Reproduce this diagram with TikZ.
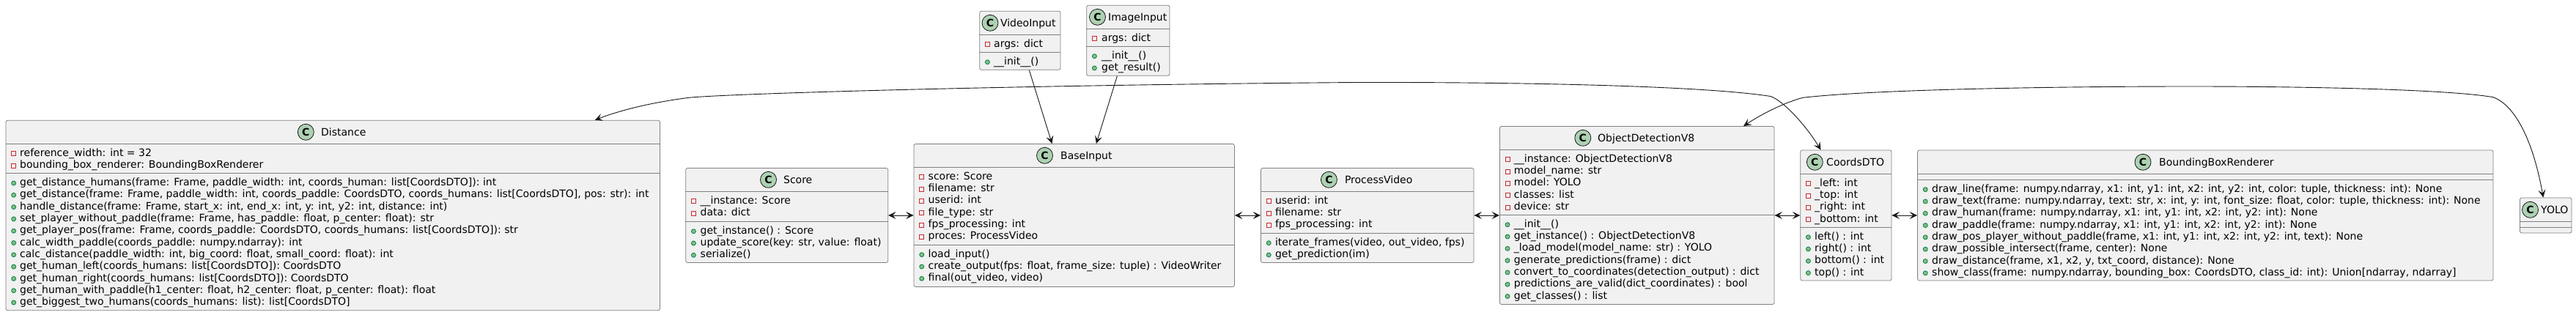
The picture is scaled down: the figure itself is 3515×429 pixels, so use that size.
\documentclass[tikz,border=0pt]{standalone}
\usepackage{fontspec}
\setmainfont{DejaVu Sans}
\usetikzlibrary{arrows.meta}
\definecolor{classfill}{HTML}{F1F1F1}
\definecolor{classline}{HTML}{181818}
\definecolor{boxline}{HTML}{808080}
\definecolor{spotfill}{HTML}{ADD1B2}
\definecolor{privline}{HTML}{C82930}
\definecolor{publine}{HTML}{038048}
\definecolor{pubfill}{HTML}{84BE84}
\tikzset{
  classbox/.style={draw=boxline,fill=classfill,line width=.8pt,rounded corners=2.5pt,inner sep=0pt},
  sepline/.style={draw=boxline,line width=.8pt},
  spot/.style={circle,draw=classline,fill=spotfill,line width=.8pt,minimum size=22pt,inner sep=0pt,font=\fontsize{14}{16}\selectfont\bfseries},
  classname/.style={anchor=base west,inner sep=0pt,font=\fontsize{14}{16}\selectfont},
  member/.style={anchor=base west,inner sep=0pt,font=\fontsize{14}{16}\selectfont},
  privmark/.style={rectangle,draw=privline,fill=classfill,line width=.8pt,minimum size=6pt,inner sep=0pt},
  pubmark/.style={circle,draw=publine,fill=pubfill,line width=.8pt,minimum size=6pt,inner sep=0pt},
  assoc/.style={draw=classline,line width=.9pt,{Stealth[length=10.5pt,width=10pt,inset=4.5pt]}-{Stealth[length=10.5pt,width=10pt,inset=4.5pt]}},
  assocto/.style={draw=classline,line width=.9pt,-{Stealth[length=10.5pt,width=10pt,inset=4.5pt]}},
}
\begin{document}
\begin{tikzpicture}[x=1pt,y=-1pt]
\useasboundingbox (0,0) rectangle (3515,429);

% class boxes:
\path (454.25,294) node[classbox,minimum width=892.5pt,minimum height=259.4pt] (distance) {};
\path (1073.7,294) node[classbox,minimum width=276pt,minimum height=129pt] (score) {};
\path (1465.7,294) node[classbox,minimum width=437.4pt,minimum height=195pt] (baseinput) {};
\path (1865.75,294) node[classbox,minimum width=290.5pt,minimum height=129pt] (processvideo) {};
\path (2233.7,294) node[classbox,minimum width=374.6pt,minimum height=243pt] (objectdetection) {};
\path (2518.85,294) node[classbox,minimum width=124.3pt,minimum height=178pt] (coordsdto) {};
\path (3009.25,294) node[classbox,minimum width=785.5pt,minimum height=178pt] (boundingbox) {};
\path (3473.7,294) node[classbox,minimum width=70.6pt,minimum height=48pt] (yolo) {};
\path (1391.85,55.3) node[classbox,minimum width=110.3pt,minimum height=80pt] (videoinput) {};
\path (1539.35,55.3) node[classbox,minimum width=113.3pt,minimum height=96pt] (imageinput) {};

% section lines:
\draw[sepline] (distance.west |- 0,196.3) -- (distance.east |- 0,196.3);
\draw[sepline] (distance.west |- 0,236.6) -- (distance.east |- 0,236.6);
\draw[sepline] (score.west |- 0,261.3) -- (score.east |- 0,261.3);
\draw[sepline] (score.west |- 0,302.3) -- (score.east |- 0,302.3);
\draw[sepline] (baseinput.west |- 0,228.3) -- (baseinput.east |- 0,228.3);
\draw[sepline] (baseinput.west |- 0,334.3) -- (baseinput.east |- 0,334.3);
\draw[sepline] (processvideo.west |- 0,261.3) -- (processvideo.east |- 0,261.3);
\draw[sepline] (processvideo.west |- 0,318.3) -- (processvideo.east |- 0,318.3);
\draw[sepline] (objectdetection.west |- 0,204.3) -- (objectdetection.east |- 0,204.3);
\draw[sepline] (objectdetection.west |- 0,293.3) -- (objectdetection.east |- 0,293.3);
\draw[sepline] (coordsdto.west |- 0,237.3) -- (coordsdto.east |- 0,237.3);
\draw[sepline] (coordsdto.west |- 0,310.3) -- (coordsdto.east |- 0,310.3);
\draw[sepline] (boundingbox.west |- 0,237.3) -- (boundingbox.east |- 0,237.3);
\draw[sepline] (boundingbox.west |- 0,245.3) -- (boundingbox.east |- 0,245.3);
\draw[sepline] (yolo.west |- 0,302.3) -- (yolo.east |- 0,302.3);
\draw[sepline] (yolo.west |- 0,310.3) -- (yolo.east |- 0,310.3);
\draw[sepline] (videoinput.west |- 0,47.3) -- (videoinput.east |- 0,47.3);
\draw[sepline] (videoinput.west |- 0,71.3) -- (videoinput.east |- 0,71.3);
\draw[sepline] (imageinput.west |- 0,39.3) -- (imageinput.east |- 0,39.3);
\draw[sepline] (imageinput.west |- 0,63.3) -- (imageinput.east |- 0,63.3);

% headers:
\path (417.3,180.3) node[spot] (distancespot) {C} (438,185.3) node[classname] (distancename) {Distance};
\path (1048.5,245.3) node[spot] (scorespot) {C} (1068.9,250.3) node[classname] (scorename) {Score};
\path (1425.5,212.3) node[spot] (baseinputspot) {C} (1447,217.3) node[classname] (baseinputname) {BaseInput};
\path (1813.4,245.3) node[spot] (processvideospot) {C} (1834.8,250.3) node[classname] (processvideoname) {ProcessVideo};
\path (2159.8,188.3) node[spot] (objectdetectionspot) {C} (2180,193.3) node[classname] (objectdetectionname) {ObjectDetectionV8};
\path (2476.3,221.3) node[spot] (coordsdtospot) {C} (2492,226.3) node[classname] (coordsdtoname) {CoordsDTO};
\path (2924,221.3) node[spot] (boundingboxspot) {C} (2946,226.3) node[classname] (boundingboxname) {BoundingBoxRenderer};
\path (3452.5,286.3) node[spot] (yolospot) {C} (3467,291.3) node[classname] (yoloname) {YOLO};
\path (1351,31.3) node[spot] (videoinputspot) {C} (1364.8,36.3) node[classname] (videoinputname) {VideoInput};
\path (1497.5,23.3) node[spot] (imageinputspot) {C} (1512,28.3) node[classname] (imageinputname) {ImageInput};

% Distance members:
\path (18.7,209.7) node[privmark] (distanceattrmarka) {} (27,213.3) node[member] (distanceattra) {reference\_width: int = 32};
\path (18.7,226) node[privmark] (distanceattrmarkb) {} (27,229.6) node[member] (distanceattrb) {bounding\_box\_renderer: BoundingBoxRenderer};
\path (18.7,250) node[pubmark] (distancemarka) {} (27,253.6) node[member] (distancea) {get\_distance\_humans(frame: Frame, paddle\_width: int, coords\_human: list[CoordsDTO]): int};
\path (18.7,266.3) node[pubmark] (distancemarkb) {} (27,269.9) node[member] (distanceb) {get\_distance(frame: Frame, paddle\_width: int, coords\_paddle: CoordsDTO, coords\_humans: list[CoordsDTO], pos: str): int};
\path (18.7,282.6) node[pubmark] (distancemarkc) {} (27,286.2) node[member] (distancec) {handle\_distance(frame: Frame, start\_x: int, end\_x: int, y: int, y2: int, distance: int)};
\path (18.7,298.9) node[pubmark] (distancemarkd) {} (27,302.5) node[member] (distanced) {set\_player\_without\_paddle(frame: Frame, has\_paddle: float, p\_center: float): str};
\path (18.7,315.2) node[pubmark] (distancemarke) {} (27,318.8) node[member] (distancee) {get\_player\_pos(frame: Frame, coords\_paddle: CoordsDTO, coords\_humans: list[CoordsDTO]): str};
\path (18.7,331.5) node[pubmark] (distancemarkf) {} (27,335.1) node[member] (distancef) {calc\_width\_paddle(coords\_paddle: numpy.ndarray): int};
\path (18.7,347.8) node[pubmark] (distancemarkg) {} (27,351.4) node[member] (distanceg) {calc\_distance(paddle\_width: int, big\_coord: float, small\_coord: float): int};
\path (18.7,364.1) node[pubmark] (distancemarkh) {} (27,367.7) node[member] (distanceh) {get\_human\_left(coords\_humans: list[CoordsDTO]): CoordsDTO};
\path (18.7,380.4) node[pubmark] (distancemarki) {} (27,384) node[member] (distancei) {get\_human\_right(coords\_humans: list[CoordsDTO]): CoordsDTO};
\path (18.7,396.7) node[pubmark] (distancemarkj) {} (27,400.3) node[member] (distancej) {get\_human\_with\_paddle(h1\_center: float, h2\_center: float, p\_center: float): float};
\path (18.7,413) node[pubmark] (distancemarkk) {} (27,416.6) node[member] (distancek) {get\_biggest\_two\_humans(coords\_humans: list): list[CoordsDTO]};

% Score members:
\path (946.4,274.7) node[privmark] (scoreattrmarka) {} (955.5,278.3) node[member] (scoreattra) {\_\_instance: Score};
\path (946.4,291) node[privmark] (scoreattrmarkb) {} (955.5,294.6) node[member] (scoreattrb) {data: dict};
\path (946.4,315.7) node[pubmark] (scoremarka) {} (955.5,319.3) node[member] (scorea) {get\_instance() : Score};
\path (946.4,332) node[pubmark] (scoremarkb) {} (955.5,335.6) node[member] (scoreb) {update\_score(key: str, value: float)};
\path (946.4,348.3) node[pubmark] (scoremarkc) {} (955.5,351.9) node[member] (scorec) {serialize()};

% BaseInput members:
\path (1257.7,241.7) node[privmark] (baseinputattrmarka) {} (1266.5,245.3) node[member] (baseinputattra) {score: Score};
\path (1257.7,258) node[privmark] (baseinputattrmarkb) {} (1266.5,261.6) node[member] (baseinputattrb) {filename: str};
\path (1257.7,274.3) node[privmark] (baseinputattrmarkc) {} (1266.5,277.9) node[member] (baseinputattrc) {userid: int};
\path (1257.7,290.6) node[privmark] (baseinputattrmarkd) {} (1266.5,294.2) node[member] (baseinputattrd) {file\_type: str};
\path (1257.7,306.9) node[privmark] (baseinputattrmarke) {} (1266.5,310.5) node[member] (baseinputattre) {fps\_processing: int};
\path (1257.7,323.2) node[privmark] (baseinputattrmarkf) {} (1266.5,326.8) node[member] (baseinputattrf) {proces: ProcessVideo};
\path (1257.7,347.7) node[pubmark] (baseinputmarka) {} (1266.5,351.3) node[member] (baseinputa) {load\_input()};
\path (1257.7,364) node[pubmark] (baseinputmarkb) {} (1266.5,367.6) node[member] (baseinputb) {create\_output(fps: float, frame\_size: tuple) : VideoWriter};
\path (1257.7,380.3) node[pubmark] (baseinputmarkc) {} (1266.5,383.9) node[member] (baseinputc) {final(out\_video, video)};

% ProcessVideo members:
\path (1731.2,274.7) node[privmark] (processvideoattrmarka) {} (1739.8,278.3) node[member] (processvideoattra) {userid: int};
\path (1731.2,291) node[privmark] (processvideoattrmarkb) {} (1739.8,294.6) node[member] (processvideoattrb) {filename: str};
\path (1731.2,307.3) node[privmark] (processvideoattrmarkc) {} (1739.8,310.9) node[member] (processvideoattrc) {fps\_processing: int};
\path (1731.2,331.7) node[pubmark] (processvideomarka) {} (1739.8,335.3) node[member] (processvideoa) {iterate\_frames(video, out\_video, fps)};
\path (1731.2,348) node[pubmark] (processvideomarkb) {} (1739.8,351.6) node[member] (processvideob) {get\_prediction(im)};

% ObjectDetectionV8 members:
\path (2057,217.7) node[privmark] (objectdetectionattrmarka) {} (2065.7,221.3) node[member] (objectdetectionattra) {\_\_instance: ObjectDetectionV8};
\path (2057,234) node[privmark] (objectdetectionattrmarkb) {} (2065.7,237.6) node[member] (objectdetectionattrb) {model\_name: str};
\path (2057,250.3) node[privmark] (objectdetectionattrmarkc) {} (2065.7,253.9) node[member] (objectdetectionattrc) {model: YOLO};
\path (2057,266.6) node[privmark] (objectdetectionattrmarkd) {} (2065.7,270.2) node[member] (objectdetectionattrd) {classes: list};
\path (2057,282.9) node[privmark] (objectdetectionattrmarke) {} (2065.7,286.5) node[member] (objectdetectionattre) {device: str};
\path (2057,306.7) node[pubmark] (objectdetectionmarka) {} (2065.7,310.3) node[member] (objectdetectiona) {\_\_init\_\_()};
\path (2057,323) node[pubmark] (objectdetectionmarkb) {} (2065.7,326.6) node[member] (objectdetectionb) {get\_instance() : ObjectDetectionV8};
\path (2057,339.3) node[pubmark] (objectdetectionmarkc) {} (2065.7,342.9) node[member] (objectdetectionc) {\_load\_model(model\_name: str) : YOLO};
\path (2057,355.6) node[pubmark] (objectdetectionmarkd) {} (2065.7,359.2) node[member] (objectdetectiond) {generate\_predictions(frame) : dict};
\path (2057,371.9) node[pubmark] (objectdetectionmarke) {} (2065.7,375.5) node[member] (objectdetectione) {convert\_to\_coordinates(detection\_output) : dict};
\path (2057,388.2) node[pubmark] (objectdetectionmarkf) {} (2065.7,391.8) node[member] (objectdetectionf) {predictions\_are\_valid(dict\_coordinates) : bool};
\path (2057,404.5) node[pubmark] (objectdetectionmarkg) {} (2065.7,408.1) node[member] (objectdetectiong) {get\_classes() : list};

% CoordsDTO members:
\path (2467.4,250.7) node[privmark] (coordsdtoattrmarka) {} (2476,254.3) node[member] (coordsdtoattra) {\_left: int};
\path (2467.4,267) node[privmark] (coordsdtoattrmarkb) {} (2476,270.6) node[member] (coordsdtoattrb) {\_top: int};
\path (2467.4,283.3) node[privmark] (coordsdtoattrmarkc) {} (2476,286.9) node[member] (coordsdtoattrc) {\_right: int};
\path (2467.4,299.6) node[privmark] (coordsdtoattrmarkd) {} (2476,303.2) node[member] (coordsdtoattrd) {\_bottom: int};
\path (2467.4,323.7) node[pubmark] (coordsdtomarka) {} (2476,327.3) node[member] (coordsdtoa) {left() : int};
\path (2467.4,340) node[pubmark] (coordsdtomarkb) {} (2476,343.6) node[member] (coordsdtob) {right() : int};
\path (2467.4,356.3) node[pubmark] (coordsdtomarkc) {} (2476,359.9) node[member] (coordsdtoc) {bottom() : int};
\path (2467.4,372.6) node[pubmark] (coordsdtomarkd) {} (2476,376.2) node[member] (coordsdtod) {top() : int};

% BoundingBoxRenderer members:
\path (2627.2,258.7) node[pubmark] (boundingboxmarka) {} (2636,262.3) node[member] (boundingboxa) {draw\_line(frame: numpy.ndarray, x1: int, y1: int, x2: int, y2: int, color: tuple, thickness: int): None};
\path (2627.2,275) node[pubmark] (boundingboxmarkb) {} (2636,278.6) node[member] (boundingboxb) {draw\_text(frame: numpy.ndarray, text: str, x: int, y: int, font\_size: float, color: tuple, thickness: int): None};
\path (2627.2,291.3) node[pubmark] (boundingboxmarkc) {} (2636,294.9) node[member] (boundingboxc) {draw\_human(frame: numpy.ndarray, x1: int, y1: int, x2: int, y2: int): None};
\path (2627.2,307.6) node[pubmark] (boundingboxmarkd) {} (2636,311.2) node[member] (boundingboxd) {draw\_paddle(frame: numpy.ndarray, x1: int, y1: int, x2: int, y2: int): None};
\path (2627.2,323.9) node[pubmark] (boundingboxmarke) {} (2636,327.5) node[member] (boundingboxe) {draw\_pos\_player\_without\_paddle(frame, x1: int, y1: int, x2: int, y2: int, text): None};
\path (2627.2,340.2) node[pubmark] (boundingboxmarkf) {} (2636,343.8) node[member] (boundingboxf) {draw\_possible\_intersect(frame, center): None};
\path (2627.2,356.5) node[pubmark] (boundingboxmarkg) {} (2636,360.1) node[member] (boundingboxg) {draw\_distance(frame, x1, x2, y, txt\_coord, distance): None};
\path (2627.2,372.8) node[pubmark] (boundingboxmarkh) {} (2636,376.4) node[member] (boundingboxh) {show\_class(frame: numpy.ndarray, bounding\_box: CoordsDTO, class\_id: int): Union[ndarray, ndarray]};

% VideoInput and ImageInput members:
\path (1347.4,60.7) node[privmark] (videoinputattrmarka) {} (1356,64.3) node[member] (videoinputattra) {args: dict};
\path (1347.4,84.7) node[pubmark] (videoinputmarka) {} (1356,88.3) node[member] (videoinputa) {\_\_init\_\_()};
\path (1493.4,52.7) node[privmark] (imageinputattrmarka) {} (1503,56.3) node[member] (imageinputattra) {args: dict};
\path (1493.4,76.7) node[pubmark] (imageinputmarka) {} (1503,80.3) node[member] (imageinputa) {\_\_init\_\_()};
\path (1493.4,93) node[pubmark] (imageinputmarkb) {} (1503,96.6) node[member] (imageinputb) {get\_result()};

% connectors:
\draw[assocto] (videoinput) -- (baseinput);
\draw[assocto] (imageinput) -- (baseinput);
\draw[assoc] (score.east) -- (baseinput.west);
\draw[assoc] (baseinput.east) -- (processvideo.west);
\draw[assoc] (processvideo.east) -- (objectdetection.west);
\draw[assoc] (objectdetection.east) -- (coordsdto.west);
\draw[assoc] (coordsdto.east) -- (boundingbox.west);
\draw[assoc] (distance.20.38) .. controls (850,149) and (895,139) .. (940,133.3) .. controls (1000,127.5) and (1400,116) .. (1850,112.5) .. controls (2100,112) and (2330,118) .. (2416,131.5) .. controls (2432,137) and (2462,168) .. (coordsdto.111.4);
\draw[assoc] (objectdetection.40.3) .. controls (2405,155) and (2435,140) .. (2460,133.3) .. controls (2560,122) and (2800,118) .. (2990,118) .. controls (3150,118) and (3340,122) .. (3402,132.7) .. controls (3435,145) and (3458,200) .. (yolo.98.06);

\end{tikzpicture}
\end{document}
